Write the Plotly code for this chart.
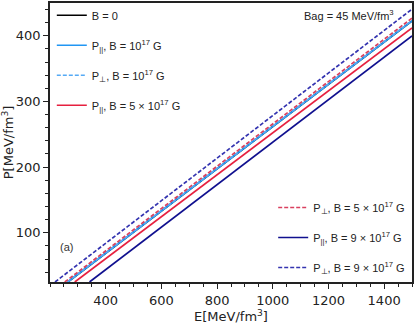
import plotly.graph_objects as go

# Energy density E [MeV/fm^3] and pressure P [MeV/fm^3]
E_b0 = [264, 1500]
P_b0 = [25, 422.6]

E_par_1e17 = [264, 1500]
P_par_1e17 = [25, 422.6]

E_perp_1e17 = [262, 1500]
P_perp_1e17 = [25, 423.2]

E_par_5e17 = [289, 1500]
P_par_5e17 = [25, 412]

E_perp_5e17 = [253, 1500]
P_perp_5e17 = [25, 427]

E_par_9e17 = [342, 1500]
P_par_9e17 = [25, 400]

E_perp_9e17 = [218, 1500]
P_perp_9e17 = [25, 440.6]

x_ticks = [400, 600, 800, 1000, 1200, 1400]
y_ticks = [100, 200, 300, 400]

NAVY = '#10108f'
NAVY_D = '#3434b0'
RED = '#e6203f'
RED_D = '#d9405f'
BLUE = '#2196f3'
BLUE_D = '#55aaf5'

fig = go.Figure()

series = [
    (E_b0, P_b0, 'B = 0', 'black', 'solid', 'legend'),
    (E_par_1e17, P_par_1e17, 'P<sub>||</sub>, B = 10<sup>17</sup> G', BLUE, 'solid', 'legend'),
    (E_perp_1e17, P_perp_1e17, 'P<sub>⊥</sub>, B = 10<sup>17</sup> G', BLUE_D, 'dash', 'legend'),
    (E_par_5e17, P_par_5e17, 'P<sub>||</sub>, B = 5 × 10<sup>17</sup> G', RED, 'solid', 'legend'),
    (E_perp_5e17, P_perp_5e17, 'P<sub>⊥</sub>, B = 5 × 10<sup>17</sup> G', RED_D, 'dash', 'legend2'),
    (E_par_9e17, P_par_9e17, 'P<sub>||</sub>, B = 9 × 10<sup>17</sup> G', NAVY, 'solid', 'legend2'),
    (E_perp_9e17, P_perp_9e17, 'P<sub>⊥</sub>, B = 9 × 10<sup>17</sup> G', NAVY_D, 'dash', 'legend2'),
]

for i, (x, y, name, col, dash, leg) in enumerate(series):
    fig.add_trace(go.Scatter(
        x=x, y=y, mode='lines', name=name,
        line=dict(color=col, width=1.7, dash=dash if dash == 'solid' else '4px,2px'),
        legend=leg, legendgroup=f'g{i}',
    ))

fig.add_annotation(x=0.955, y=0.99, xref='paper', yref='paper', xanchor='right', yanchor='top',
                   text='Bag = 45 MeV/fm<sup>3</sup>', showarrow=False,
                   font=dict(family='Liberation Sans, Arial', size=11, color='#222'))
fig.add_annotation(x=260, y=78, text='(a)', showarrow=False,
                   font=dict(family='Liberation Sans, Arial', size=11, color='#333'))

axis_common = dict(
    showline=True, linecolor='#222', linewidth=1.8, mirror=True,
    ticks='outside', ticklen=5, tickwidth=1.2, tickcolor='#222',
    showgrid=False, zeroline=False,
    tickfont=dict(family='DejaVu Sans', size=13, color='#222'),
    minor=dict(ticks='outside', ticklen=3, tickwidth=1, tickcolor='#222'),
)

fig.update_xaxes(range=[200, 1500], tickvals=x_ticks, minor_dtick=50,
                 title=dict(text='E[MeV/fm<sup>3</sup>]', standoff=6,
                            font=dict(family='DejaVu Sans', size=13, color='#222')),
                 **axis_common)
fig.update_yaxes(range=[25, 450], tickvals=y_ticks, minor_dtick=20,
                 title=dict(text='P[MeV/fm<sup>3</sup>]', standoff=6,
                            font=dict(family='DejaVu Sans', size=13, color='#222')),
                 **axis_common)

legend_font = dict(family='Liberation Sans, Arial', size=11, color='#222')
fig.update_layout(
    width=415, height=324,
    margin=dict(l=48, r=1, t=1, b=42),
    plot_bgcolor='white', paper_bgcolor='white',
    showlegend=True,
    legend=dict(x=0.005, y=1.008, xanchor='left', yanchor='top', bgcolor='rgba(0,0,0,0)',
                font=legend_font, tracegroupgap=11),
    legend2=dict(x=0.995, y=0.0, xanchor='right', yanchor='bottom', bgcolor='rgba(0,0,0,0)',
                 font=legend_font, tracegroupgap=11),
)

fig.write_html('out.html', config={'displayModeBar': False},
               post_script="document.body.style.margin='0';document.body.style.padding='0';"
                           "document.body.style.overflow='hidden';")
